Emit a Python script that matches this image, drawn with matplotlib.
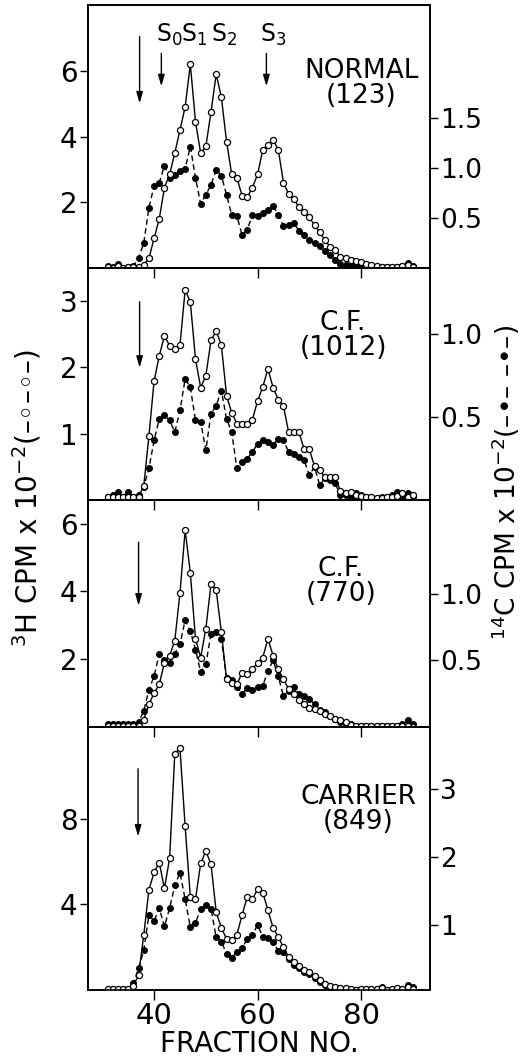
import numpy as np
import matplotlib.pyplot as plt

plt.rcParams['font.family'] = 'DejaVu Sans'

# fraction numbers shared by all four gradients
fractions = np.arange(31, 91)

# 3H counts (x 10^-2, open circles) and 14C counts (x 10^-2, filled circles)
normal_h3 = [0.02, 0.0, 0.05, 0.0, 0.02, 0.02, 0.03, 0.1, 0.3, 0.9,
             1.5, 2.45, 2.85, 3.5, 4.2, 4.9, 6.2, 4.45, 3.5, 3.7,
             4.75, 5.9, 5.2, 3.85, 2.85, 2.75, 2.2, 2.15, 2.45, 2.85,
             3.6, 3.75, 3.9, 3.6, 2.6, 2.25, 2.1, 1.85, 1.7, 1.55,
             1.3, 1.1, 0.85, 0.65, 0.55, 0.35, 0.3, 0.25, 0.2, 0.18,
             0.12, 0.08, 0.05, 0.04, 0.03, 0.03, 0.03, 0.05, 0.1, 0.03]
normal_c14 = [0.02, 0.01, 0.04, 0.0, 0.01, 0.02, 0.1, 0.25, 0.6, 0.82,
              0.85, 1.02, 0.9, 0.93, 0.97, 0.99, 1.21, 0.9, 0.64, 0.73,
              0.83, 0.98, 0.92, 0.73, 0.53, 0.52, 0.33, 0.38, 0.53, 0.52,
              0.55, 0.58, 0.62, 0.53, 0.42, 0.43, 0.45, 0.37, 0.33, 0.28,
              0.25, 0.22, 0.17, 0.13, 0.08, 0.04, 0.03, 0.03, 0.02, 0.02,
              0.01, 0.01, 0.01, 0.01, 0.01, 0.01, 0.01, 0.02, 0.05, 0.02]

cf1012_h3 = [0.05, 0.05, 0.05, 0.05, 0.05, 0.05, 0.05, 0.21, 0.96, 1.79,
             2.17, 2.47, 2.32, 2.27, 2.33, 3.16, 2.98, 2.12, 1.69, 1.87,
             2.4, 2.54, 2.33, 1.57, 1.31, 1.15, 1.14, 1.15, 1.21, 1.49,
             1.7, 1.97, 1.69, 1.51, 1.41, 1.02, 1.02, 1.02, 0.76, 0.76,
             0.51, 0.45, 0.34, 0.34, 0.34, 0.14, 0.1, 0.12, 0.08, 0.06,
             0.04, 0.05, 0.03, 0.03, 0.04, 0.05, 0.06, 0.1, 0.04, 0.08]
cf1012_c14 = [0.02, 0.03, 0.05, 0.02, 0.05, 0.02, 0.03, 0.08, 0.19, 0.36,
              0.49, 0.51, 0.48, 0.41, 0.54, 0.73, 0.68, 0.48, 0.47, 0.3,
              0.52, 0.57, 0.66, 0.49, 0.41, 0.19, 0.23, 0.25, 0.29, 0.34,
              0.36, 0.35, 0.33, 0.37, 0.36, 0.29, 0.28, 0.26, 0.24, 0.15,
              0.2, 0.09, 0.13, 0.12, 0.1, 0.03, 0.03, 0.02, 0.04, 0.03,
              0.02, 0.01, 0.01, 0.02, 0.02, 0.03, 0.05, 0.02, 0.04, 0.02]

cf770_h3 = [0.02, 0.02, 0.02, 0.02, 0.03, 0.03, 0.02, 0.22, 0.67, 1.0,
            1.26, 1.9, 2.1, 2.55, 3.95, 5.8, 4.55, 2.6, 2.05, 2.9,
            4.22, 4.04, 2.8, 1.41, 1.31, 1.26, 1.6, 1.55, 1.7, 1.9,
            2.05, 2.6, 2.1, 1.7, 1.41, 1.12, 0.96, 0.81, 0.67, 0.57,
            0.52, 0.47, 0.37, 0.32, 0.25, 0.22, 0.15, 0.07, 0.04, 0.03,
            0.02, 0.02, 0.02, 0.02, 0.02, 0.02, 0.02, 0.02, 0.03, 0.0]
cf770_c14 = [0.02, 0.02, 0.02, 0.02, 0.02, 0.02, 0.04, 0.12, 0.28, 0.38,
             0.55, 0.5, 0.48, 0.55, 0.62, 0.8, 0.72, 0.58, 0.41, 0.47,
             0.7, 0.71, 0.66, 0.37, 0.35, 0.3, 0.25, 0.29, 0.28, 0.3,
             0.31, 0.42, 0.5, 0.38, 0.23, 0.27, 0.3, 0.25, 0.23, 0.21,
             0.17, 0.13, 0.11, 0.08, 0.06, 0.04, 0.02, 0.02, 0.01, 0.01,
             0.01, 0.01, 0.01, 0.01, 0.01, 0.01, 0.01, 0.02, 0.05, 0.02]

carrier_h3 = [0.05, 0.05, 0.05, 0.05, 0.05, 0.2, 0.7, 2.56, 4.7, 5.5,
              5.95, 4.75, 6.16, 11.06, 11.3, 7.65, 4.36, 4.26, 5.92, 6.5,
              5.88, 3.65, 2.9, 2.4, 2.32, 2.59, 3.5, 4.36, 4.25, 4.72,
              4.56, 3.73, 2.9, 2.48, 2.0, 1.54, 1.3, 1.1, 0.95, 0.85,
              0.65, 0.45, 0.3, 0.2, 0.12, 0.1, 0.08, 0.05, 0.0, 0.05,
              0.05, 0.05, 0.05, 0.08, 0.0, 0.05, 0.08, 0.05, 0.15, 0.05]
carrier_c14 = [0.05, 0.05, 0.05, 0.05, 0.05, 0.15, 0.37, 0.63, 1.15, 1.06,
               1.25, 0.98, 1.25, 1.58, 1.77, 1.38, 0.97, 1.03, 1.24, 1.29,
               1.24, 0.82, 0.76, 0.58, 0.52, 0.61, 0.66, 0.8, 0.86, 1.0,
               0.83, 0.81, 0.76, 0.62, 0.6, 0.5, 0.42, 0.37, 0.32, 0.28,
               0.22, 0.17, 0.13, 0.1, 0.08, 0.06, 0.05, 0.04, 0.05, 0.05,
               0.05, 0.05, 0.06, 0.1, 0.05, 0.05, 0.06, 0.05, 0.12, 0.1]

panel_names = ['NORMAL\n(123)', 'C.F.\n(1012)', 'C.F.\n(770)', 'CARRIER\n(849)']
h3_ticks = [[2, 4, 6], [1, 2, 3], [2, 4, 6], [4, 8]]
c14_ticks = [[0.5, 1.0, 1.5], [0.5, 1.0], [0.5, 1.0], [1, 2, 3]]
c14_labels = [['0.5', '1.0', '1.5'], ['0.5', '1.0'], ['0.5', '1.0'], ['1', '2', '3']]
peak_names = [r'S$_0$', r'S$_1$', r'S$_2$', r'S$_3$']
peak_label_x = [42.9, 47.7, 53.5, 63.0]

panels = [
    dict(h3=normal_h3, c14=normal_c14, rect=(0.168, 0.7476, 0.654, 0.2476),
         ylim=(0, 8), ylim2=(0, 2.62), label_pos=(0.80, 0.70),
         arrows=[(37.2, 7.04, 5.01), (41.4, 6.53, 5.53), (61.7, 6.53, 5.53)]),
    dict(h3=cf1012_h3, c14=cf1012_c14, rect=(0.168, 0.5292, 0.654, 0.2185),
         ylim=(0, 3.49), ylim2=(0, 1.40), label_pos=(0.746, 0.707),
         arrows=[(37.2, 2.98, 1.99)]),
    dict(h3=cf770_h3, c14=cf770_c14, rect=(0.168, 0.3154, 0.654, 0.2137),
         ylim=(0, 6.69), ylim2=(0, 1.70), label_pos=(0.74, 0.643),
         arrows=[(37.0, 5.45, 3.58)]),
    dict(h3=carrier_h3, c14=carrier_c14, rect=(0.168, 0.0678, 0.654, 0.2476),
         ylim=(0, 12.3), ylim2=(0.05, 3.9), label_pos=(0.79, 0.688),
         arrows=[(36.9, 10.35, 7.18)]),
]

fig = plt.figure(figsize=(5.23, 10.62), dpi=100)

for i, p in enumerate(panels):
    ax = fig.add_axes(p['rect'])
    ax2 = ax.twinx()
    # open circles drawn above the filled ones
    ax.set_zorder(ax2.get_zorder() + 1)
    ax.patch.set_visible(False)

    ax2.plot(fractions, p['c14'], color='black', lw=1.0, ls=(0, (4, 2.5)),
             marker='o', ms=4.2, mfc='black', mec='black', mew=0.8)
    ax.plot(fractions, p['h3'], color='black', lw=1.0,
            marker='o', ms=4.4, mfc='white', mec='black', mew=0.9)

    ax.set_xlim(27.2, 93.3)
    ax.set_ylim(*p['ylim'])
    ax2.set_ylim(*p['ylim2'])

    ax.set_xticks([40, 60, 80])
    ax.set_yticks(h3_ticks[i])
    ax.set_yticklabels([str(t) for t in h3_ticks[i]])
    ax2.set_yticks(c14_ticks[i])
    ax2.set_yticklabels(c14_labels[i])

    ax.tick_params(axis='y', direction='out', length=6, width=1.0, pad=1.5, labelsize=20)
    ax.tick_params(axis='x', direction='out', length=7, width=1.0, pad=2, labelsize=21)
    ax2.tick_params(axis='y', direction='out', length=6, width=1.0, pad=1.5, labelsize=19)
    if i < 3:
        ax.tick_params(axis='x', labelbottom=False)

    for a in (ax, ax2):
        for s in a.spines.values():
            s.set_linewidth(1.2)

    ax.text(p['label_pos'][0], p['label_pos'][1], panel_names[i],
            transform=ax.transAxes, ha='center', va='center',
            fontsize=19, linespacing=0.95)

    for fx, y0, y1 in p['arrows']:
        ax.annotate('', xy=(fx, y1), xytext=(fx, y0),
                    arrowprops=dict(arrowstyle='-|>,head_length=0.45,head_width=0.13',
                                    color='black', lw=1.0, shrinkA=0, shrinkB=0,
                                    mutation_scale=15))

    if i == 0:
        for name, lx in zip(peak_names, peak_label_x):
            ax.text(lx, 6.89, name, ha='center', va='baseline', fontsize=17)
    if i == 3:
        ax.set_xlabel('FRACTION NO.', fontsize=20, labelpad=0)

fig.text(27 / 523, 1 - 498 / 1062, '$^3$H CPM x 10$^{-2}$(–◦–◦–)',
         rotation=90, ha='center', va='center', fontsize=20)
fig.text(506 / 523, 1 - 482 / 1062, '$^{14}$C CPM x 10$^{-2}$(–•– –•–)',
         rotation=90, ha='center', va='center', fontsize=19)

fig.savefig('out.png', dpi=100)
